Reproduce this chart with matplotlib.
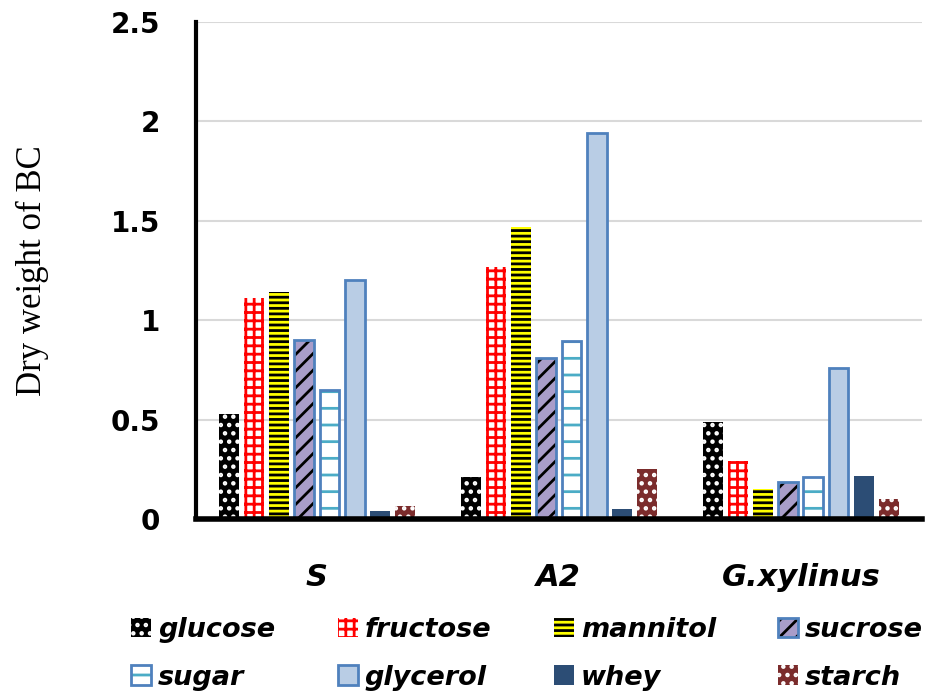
"""
Dry weight of bacterial cellulose per carbon source, grouped by strain.
"""

import numpy as np
import matplotlib
matplotlib.use("Agg")
import matplotlib.pyplot as plt

strains = ["S", "A2", "G.xylinus"]
sources = ["glucose", "fructose", "mannitol", "sucrose",
           "sugar", "glycerol", "whey", "starch"]

glucose = [0.53, 0.21, 0.49]
fructose = [1.11, 1.27, 0.29]
mannitol = [1.14, 1.47, 0.15]
sucrose = [0.90, 0.81, 0.185]
sugar = [0.65, 0.895, 0.21]
glycerol = [1.20, 1.94, 0.76]
whey = [0.04, 0.05, 0.215]
starch = [0.065, 0.25, 0.10]

values = [glucose, fructose, mannitol, sucrose, sugar, glycerol, whey, starch]

# (face, hatch colour, hatch, outline colour)
STYLES = [
    ("black",   "white",   "..",  None),
    ("white",   "#ff0000", "++",  None),
    ("#ffff00", "black",   "---", None),
    ("#a99dc9", "black",   "//",  "#4f81bd"),
    ("white",   "#4bacc6", "-",   "#4f81bd"),
    ("#b9cde5", None,      None,  "#4f81bd"),
    ("#2c4d75", None,      None,  None),
    ("#7b2c2c", "white",   "..",  None),
]

plt.rcParams["hatch.linewidth"] = 2.0

fig = plt.figure(figsize=(9.33, 7.0), dpi=100)
ax = fig.add_axes([0.21, 0.2586, 0.778, 0.71])

x = np.arange(len(strains))
step = 0.104
width = 0.082
handles = []
for i, (vals, (face, hcol, hatch, ecol)) in enumerate(zip(values, STYLES)):
    pos = x + (i - 3.5) * step
    if hatch:
        b = ax.bar(pos, vals, width, color=face, edgecolor=hcol,
                   hatch=hatch, linewidth=0, zorder=3)
    else:
        b = ax.bar(pos, vals, width, color=face, linewidth=0, zorder=3)
    h = b.patches[0]
    if ecol:
        o = ax.bar(pos, vals, width, color="none", edgecolor=ecol,
                   linewidth=2, zorder=4)
        h = (h, o.patches[0])
    handles.append(h)

ax.set_xlim(-0.5, 2.5)
ax.set_ylim(0, 2.5)
ax.set_yticks([0, 0.5, 1, 1.5, 2, 2.5])
ax.set_yticklabels(["0", "0.5", "1", "1.5", "2", "2.5"],
                   fontsize=20, fontweight="bold")
ax.set_xticks(x)
ax.set_xticklabels(strains, fontsize=22, fontweight="bold", style="italic")
ax.tick_params(length=0, axis="y", pad=26)
ax.tick_params(length=0, axis="x", pad=32)
ax.yaxis.grid(True, color="#d9d9d9", linewidth=1.5, zorder=0)
ax.set_axisbelow(True)
for s in ["top", "right"]:
    ax.spines[s].set_visible(False)
ax.spines["left"].set_linewidth(3)
ax.spines["bottom"].set_linewidth(4)
ax.spines["bottom"].set_zorder(5)
ax.set_ylabel("Dry weight of BC", family="Liberation Serif", fontsize=25,
              labelpad=44)

# legend fills column-wise, reorder so it reads row by row
order = [0, 4, 1, 5, 2, 6, 3, 7]
fig.legend([handles[k] for k in order], [sources[k] for k in order],
           loc="center", bbox_to_anchor=(0.565, 0.066), ncol=4,
           frameon=False, handlelength=0.75, handleheight=0.75,
           handletextpad=0.25, columnspacing=2.3, labelspacing=0.8,
           prop={"size": 19.5, "weight": "bold", "style": "italic"})

fig.savefig("out.png", dpi=100)
